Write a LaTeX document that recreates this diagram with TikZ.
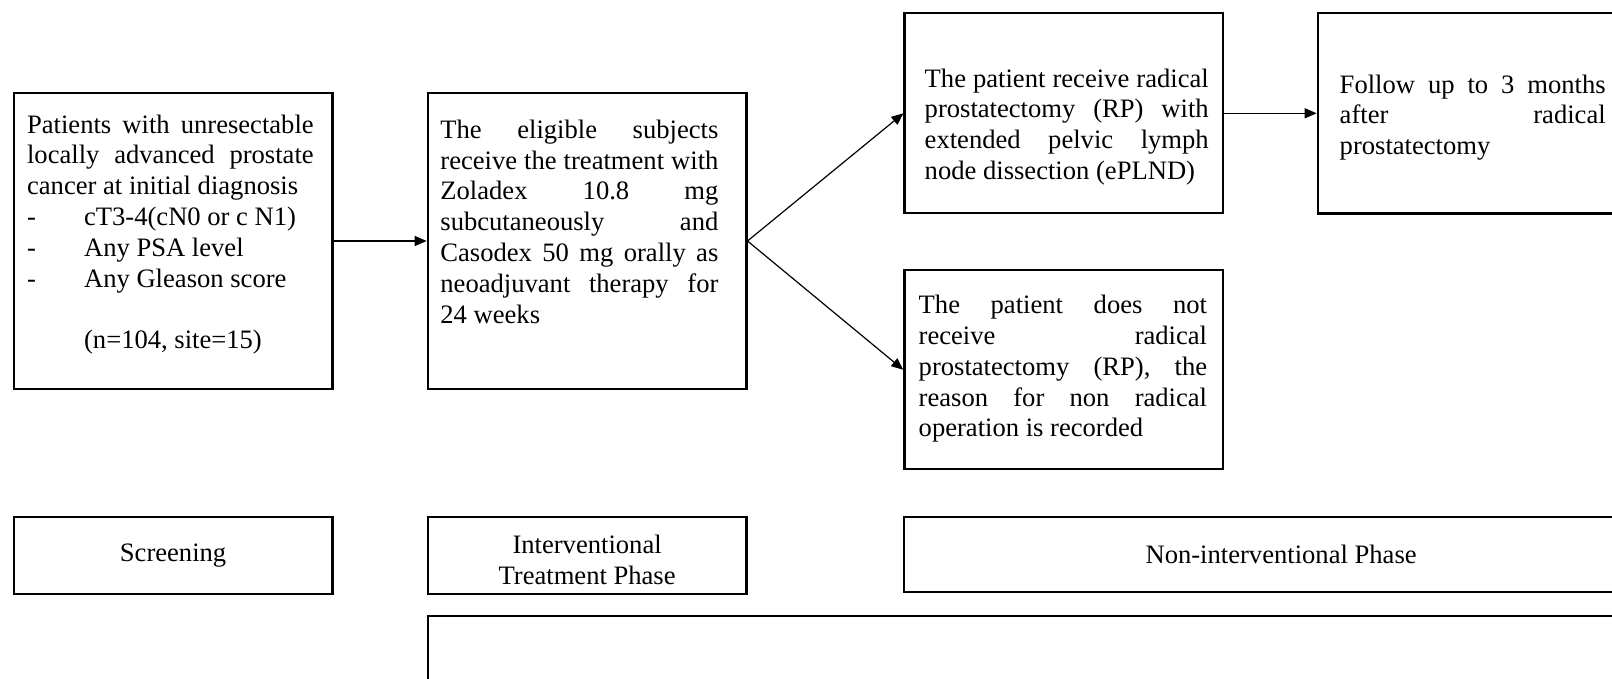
\documentclass[tikz,border=0pt]{standalone}
\usepackage{fontspec}
\setmainfont{Liberation Serif}
\usetikzlibrary{arrows.meta}
\tolerance=10000
\hbadness=10000
\hyphenpenalty=10000
\exhyphenpenalty=10000

\begin{document}
\begin{tikzpicture}[x = 0.5pt, y = -0.5pt,
		box/.style = {draw, line width = 1.1pt, inner sep = 0pt, anchor = north west, minimum width = 159.3pt, font = \fontsize{13.3}{15.4}\selectfont},
		txt/.style = {anchor = north west, inner sep = 0pt, align = justify, font = \fontsize{13.3}{15.4}\selectfont}]
					\useasboundingbox (0,0) rectangle (1612,679);
					\clip (0,0) rectangle (1612,679);

					\node [box, minimum height = 148.2pt] (patients) at (12.7,91.7) {};
					\node [txt, text width = 143.3pt] (patientstxt) at (26.7,111.1)
						{\strut Patients with unresectable\linebreak locally advanced prostate\linebreak cancer at initial diagnosis\\
						\makebox[28.5pt][l]{-}cT3-4(cN0 or c N1)\\
						\makebox[28.5pt][l]{-}Any PSA level\\
						\makebox[28.5pt][l]{-}Any Gleason score\\[15.4pt]
						\hspace*{28.5pt}(n=104, site=15)};

					\node [box, minimum height = 148.2pt] (eligible) at (426.7,91.7) {};
					\node [txt, text width = 139pt] (eligibletxt) at (440,116.4)
						{\strut The eligible subjects\linebreak receive the treatment with\linebreak Zoladex 10.8 mg\linebreak subcutaneously and\linebreak Casodex 50 mg orally as\linebreak neoadjuvant therapy for\linebreak 24 weeks};

					\node [box, minimum height = 99.9pt] (rp) at (903.4,12.3) {};
					\node [txt, text width = 142pt] (rptxt) at (924.3,65.1)
						{\strut The patient receive radical\linebreak prostatectomy (RP) with\linebreak extended pelvic lymph\linebreak node dissection (ePLND)};

					\node [box, minimum height = 100.2pt] (followup) at (1316.7,12) {};
					\node [txt, text width = 133pt] (followuptxt) at (1339.3,71.1)
						{\strut Follow up to 3 months\linebreak after radical\linebreak prostatectomy};

					\node [box, minimum height = 99.4pt] (norp) at (903.3,269.3) {};
					\node [txt, text width = 144.2pt] (norptxt) at (918.3,291.7)
						{\strut The patient does not\linebreak receive radical\linebreak prostatectomy (RP), the\linebreak reason for non radical\linebreak operation is recorded};

					\node [box, minimum height = 38.5pt] (screening) at (12.7,516) {Screening};
					\node [box, minimum height = 38.5pt] (interventional) at (426.7,516)
						{\raisebox{-3.6pt}[\height][\depth]{\begin{tabular}{@{}c@{}}Interventional\\Treatment Phase\end{tabular}}};
					\node [box, minimum height = 37.5pt, minimum width = 377pt] (noninterventional) at (903,516) {Non-interventional Phase};
					\node [box, minimum height = 60pt, minimum width = 700pt] (bottom) at (426.7,615) {};

					\begin{scope}[line width = 0.6pt, -{Triangle[length = 6pt, width = 5pt]}]
						\draw (patients.east) -- (eligible.west);
						\draw (eligible.east) -- (rp.west);
						\draw (eligible.east) -- (norp.west);
						\draw (rp.east) -- (followup.west);
					\end{scope}
				\end{tikzpicture}
\end{document}
